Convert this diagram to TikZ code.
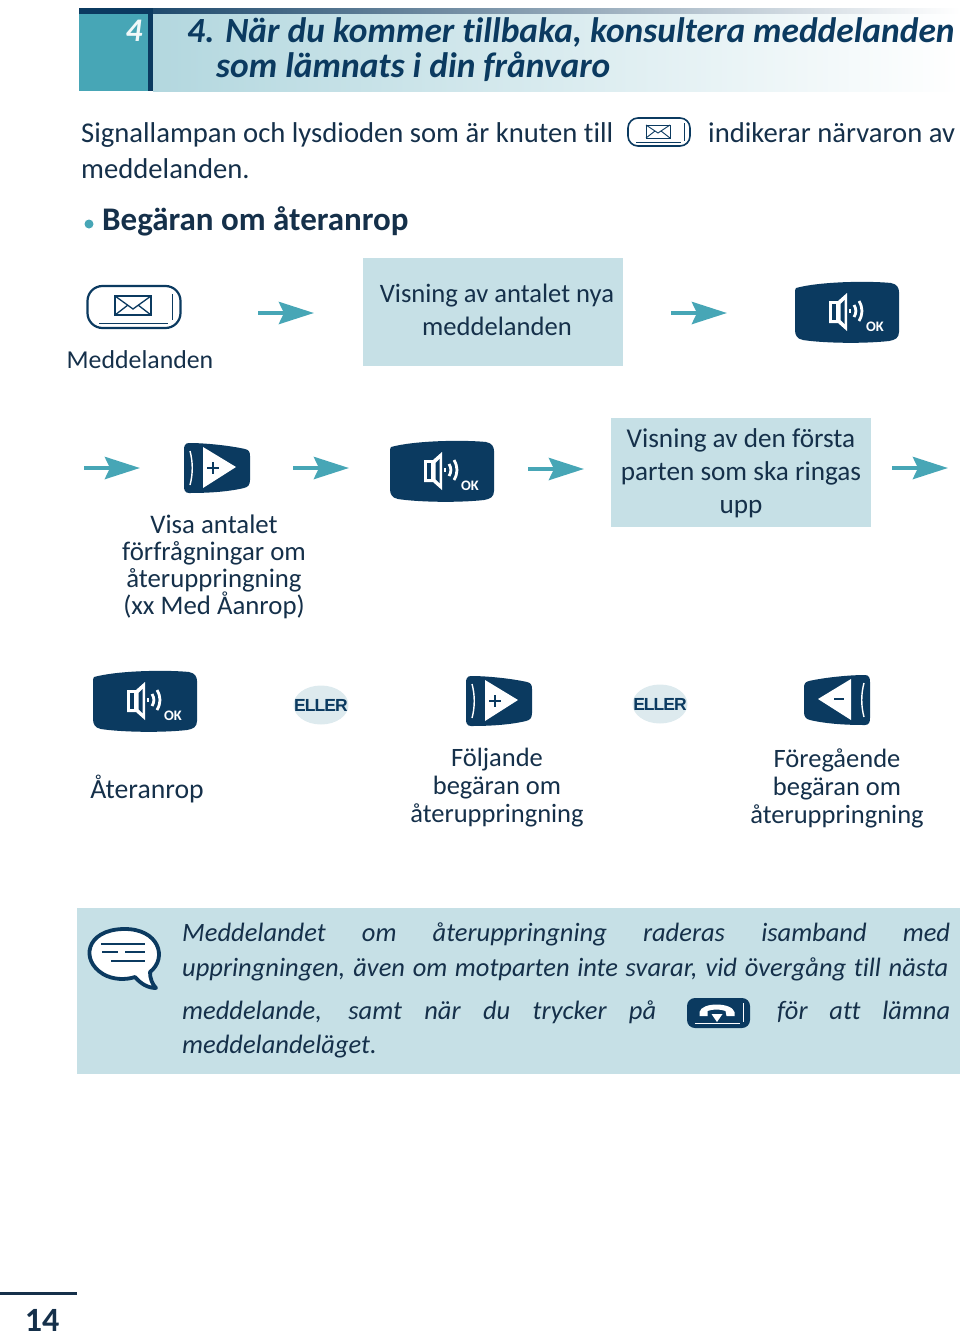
\documentclass[tikz,border=0pt]{standalone}
\usepackage{fontspec}
\setmainfont{Carlito}[Ligatures=NoCommon]
\newfontfamily\ellerfont{Liberation Sans}[LetterSpace=-5.5]
\usetikzlibrary{arrows.meta,shapes.geometric}
\definecolor{navy}{HTML}{0B3A60}
\definecolor{ink}{HTML}{15304A}
\definecolor{teal}{HTML}{47A6B6}
\definecolor{pale}{HTML}{C6E0E6}
\definecolor{oval}{HTML}{DDEAEE}
\newcommand{\fs}[2]{\fontsize{#1}{#2}\selectfont\lineskiplimit=-100pt\relax}
\tikzset{
  x=1pt,y=-1pt,
  body/.style={text=ink,inner sep=0pt,anchor=base west,font=\fs{28.65}{33}},
  note/.style={text=ink,inner sep=0pt,anchor=base west,font=\fs{26.5}{33}\itshape},
  label/.style={text=ink,inner sep=0pt,align=center,font=\fs{26.5}{28}},
  boxlabel/.style={text=ink,inner sep=0pt,align=center,font=\fs{26.6}{33}},
  flow/.style={draw=teal,line width=4.5pt,-{Stealth[length=35pt,width=22pt,inset=5pt,fill=teal]}},
  eller/.style={ellipse,fill=oval,minimum width=55pt,minimum height=39pt,inner sep=0pt,text=navy,font=\fs{17.5}{18}\ellerfont\bfseries},
  okkey/.pic={
    \fill[navy] (-51,-24) .. controls (-25,-31) and (25,-31) .. (44,-29)
      .. controls (50,-28) and (52,-24) .. (52,-20)
      -- (52,20) .. controls (52,26) and (48,28) .. (42,29)
      .. controls (15,32) and (-25,31) .. (-44,28)
      .. controls (-50,27) and (-52,23) .. (-52,18) -- (-52,-18)
      .. controls (-52,-21) and (-52,-23) .. (-51,-24) -- cycle;
    \fill[white] (-18,-11) -- (-9,-11) -- (0,-19) -- (0,19) -- (-9,11) -- (-18,11) -- cycle;
    \fill[navy] (-15.5,-8) rectangle (-11,8);
    \fill[navy] (-6.5,-8) -- (-2.5,-12) -- (-2.5,12) -- (-6.5,8) -- cycle;
    \draw[white,line width=2.8pt] (7,-7) .. controls (9.5,-3) and (9.5,1) .. (7,5);
    \draw[white,line width=2.8pt] (12,-11) .. controls (16,-4) and (16,2) .. (12,9);
    \draw[white,line width=2.8pt] (3,-3) -- (3,1);
    \node[text=white,inner sep=0pt,font=\fs{14.5}{14}\bfseries] at (28,15) {OK};
  },
  pluskey/.pic={
    \fill[navy] (-28,-25) .. controls (-10,-25) and (15,-22) .. (28,-19)
      .. controls (32,-18) and (33,-16) .. (33,-12) -- (33,12)
      .. controls (33,17) and (31,19) .. (27,20)
      .. controls (10,24) and (-10,25) .. (-28,25)
      .. controls (-32,25) and (-33,22) .. (-33,18) -- (-33,-18)
      .. controls (-33,-22) and (-32,-25) .. (-28,-25) -- cycle;
    \fill[white] (-14,-21) -- (19,-1) -- (-14,20) -- cycle;
    \draw[white,line width=1.4pt] (-27,-17) .. controls (-24,-6) and (-24,6) .. (-27,17);
    \draw[navy,line width=1.6pt] (-10,0) -- (2,0) (-4,-6) -- (-4,6);
  },
  minuskey/.pic={
    \fill[navy] (28,-25) .. controls (10,-25) and (-15,-22) .. (-28,-19)
      .. controls (-32,-18) and (-33,-16) .. (-33,-12) -- (-33,12)
      .. controls (-33,17) and (-31,19) .. (-27,20)
      .. controls (-10,24) and (10,25) .. (28,25)
      .. controls (32,25) and (33,22) .. (33,18) -- (33,-18)
      .. controls (33,-22) and (32,-25) .. (28,-25) -- cycle;
    \fill[white] (14,-21) -- (-19,-1) -- (14,20) -- cycle;
    \draw[white,line width=1.4pt] (27,-17) .. controls (24,-6) and (24,6) .. (27,17);
    \draw[navy,line width=1.6pt] (-3,-1) -- (7,-1);
  },
  mailkey/.pic={
    \draw[navy,line width=2.2pt,fill=white,rounded corners=15pt] (-46.5,-21) rectangle (46.5,21);
    \draw[navy,line width=.9pt] (38,-13) -- (38,13) (-35,16) -- (34,16);
    \draw[navy,line width=1.3pt,fill=white] (-19,-11) rectangle (17,8);
    \draw[navy,line width=1.3pt] (-19,-11) -- (-1,2) -- (17,-11) (-19,8) -- (-6,-2) (17,8) -- (4,-2);
  },
  smallmailkey/.pic={
    \draw[navy,line width=1.6pt,fill=white,rounded corners=10pt] (-31,-14) rectangle (31,14);
    \draw[navy,line width=.7pt] (25,-9) -- (25,9) (-23,10) -- (22,10);
    \draw[navy,line width=.9pt] (-13,-7) rectangle (11,6);
    \draw[navy,line width=.9pt] (-13,-7) -- (-1,1) -- (11,-7) (-13,6) -- (-4,-1) (11,6) -- (2,-1);
  },
  phonekey/.pic={
    \fill[navy,rounded corners=8pt] (-31.5,-15) rectangle (31.5,15);
    \fill[white] (-19,-1) .. controls (-17,-11) and (13,-11) .. (16,-1)
      -- (16,3) -- (8,3) -- (7,-2) .. controls (2,-4) and (-6,-4) .. (-11,-2)
      -- (-11,3) -- (-19,3) -- cycle;
    \fill[white] (-7,1) -- (4,1) -- (-1.5,9) -- cycle;
    \draw[white,line width=.9pt] (25,-10) -- (25,9) (-24,10) -- (21,10);
  },
  bubble/.pic={
    \draw[navy,line width=3.8pt,fill=white,line join=round]
      (12,21) .. controls (3,24) and (-10,24) .. (-20,18)
      .. controls (-43,4) and (-37,-26) .. (0,-27)
      .. controls (36,-28) and (45,2) .. (27,16)
      .. controls (27,22) and (29,28) .. (33,32)
      .. controls (25,32) and (18,28) .. (12,21) -- cycle;
    \draw[navy,line width=2.8pt] (-22,-12) -- (22,-12) (-21,-4) -- (-5,-4) (2,-4) -- (22,-4) (-12,5) -- (22,5);
  }
}
\begin{document}
\begin{tikzpicture}
\useasboundingbox (0,0) rectangle (960,1336);
% header
\fill[left color=navy,right color=white] (79,8) rectangle (960,14);
\fill[left color=pale!85!teal,right color=white] (153,14) rectangle (960,91);
\fill[teal] (79,14) rectangle (148,91);
\fill[navy] (148,14) rectangle (153,91);
\fill[navy] (79,8) rectangle (153,14);
\node[text=white!92!teal,inner sep=0pt,font=\fs{33}{33}\bfseries\itshape] (chapnum) at (134,31) {4};
\node[text=navy,inner sep=0pt,anchor=base west,font=\fs{35.4}{35}\bfseries\itshape] (title1) at (187,42) {4. När du kommer tillbaka, konsultera meddelanden};
\node[text=navy,inner sep=0pt,anchor=base west,font=\fs{35.4}{35}\bfseries\itshape] (title2) at (216,77) {som lämnats i din frånvaro};
% intro
\node[body] (intro1) at (81,142) {Signallampan och lysdioden som är knuten till};
\pic (introkey) at (659,132) {smallmailkey};
\node[body] (intro2) at (708,142) {indikerar närvaron av};
\node[body] (intro3) at (81,178) {meddelanden.};
\fill[teal] (89,224) circle (4.5);
\node[text=ink,inner sep=0pt,anchor=base west,font=\fs{33}{33}\bfseries] (heading) at (102,230) {Begäran om återanrop};
% row 1
\pic (mail) at (134,307) {mailkey};
\node[label,font=\fs{25.8}{28}] (mailtext) at (140,360) {Meddelanden};
\node[fill=pale,minimum width=260pt,minimum height=108pt,inner sep=0pt] (box1) at (493,312) {};
\node[boxlabel] (box1text) at (497,310) {Visning av antalet nya\\meddelanden};
\pic (ok1) at (847,312) {okkey};
\coordinate (a1s) at (258,313); \coordinate (a1e) at (314,313);
\coordinate (a2s) at (671,313); \coordinate (a2e) at (727,313);
\draw[flow] (a1s) -- (a1e);
\draw[flow] (a2s) -- (a2e);
% row 2
\coordinate (a3s) at (84,468); \coordinate (a3e) at (140,468);
\coordinate (a4s) at (293,468); \coordinate (a4e) at (349,468);
\coordinate (a5s) at (528,469); \coordinate (a5e) at (584,469);
\coordinate (a6s) at (892,468); \coordinate (a6e) at (948,468);
\draw[flow] (a3s) -- (a3e);
\draw[flow] (a4s) -- (a4e);
\draw[flow] (a5s) -- (a5e);
\draw[flow] (a6s) -- (a6e);
\pic (plus1) at (217,468) {pluskey};
\node[label,font=\fs{26.8}{27}] (plustext) at (214,567) {Visa antalet\\förfrågningar om\\återuppringning\\(xx Med Åanrop)};
\pic (ok2) at (442,471) {okkey};
\node[fill=pale,minimum width=260pt,minimum height=109pt,inner sep=0pt] (box2) at (741,472.5) {};
\node[boxlabel,font=\fs{27.2}{33}] (box2text) at (741,473) {Visning av den första\\parten som ska ringas\\upp};
% row 3
\pic (ok3) at (145,701) {okkey};
\node[eller] (or1) at (321,705) {\makebox[0pt]{ELLER}};
\pic (plus2) at (499,701) {pluskey};
\node[eller] (or2) at (660,704) {\makebox[0pt]{ELLER}};
\pic (minus) at (837,700) {minuskey};
\node[label,font=\fs{27.7}{28}] (ok3text) at (147,789) {Återanrop};
\node[label] (plus2text) at (497,787.5) {Följande\\begäran om\\återuppringning};
\node[label] (minustext) at (837,788.5) {Föregående\\begäran om\\återuppringning};
% note
\fill[pale] (77,908) rectangle (960,1074);
\pic (speech) at (123,956) {bubble};
\node[note] (n1) at (182,941) {\makebox[768pt][s]{Meddelandet om återuppringning raderas isamband med}};
\node[note] (n2) at (182,976) {\makebox[766pt][s]{uppringningen, även om motparten inte svarar, vid övergång till nästa}};
\node[note] (n3) at (182,1019) {\makebox[474pt][s]{meddelande, samt när du trycker på}};
\pic (hang) at (718.5,1013) {phonekey};
\node[note] (n4) at (777,1019) {\makebox[173pt][s]{för att lämna}};
\node[note] (n5) at (182,1053) {meddelandeläget.};
% page number
\fill[ink] (0,1292) rectangle (77,1295);
\node[text=ink,inner sep=0pt,font=\fs{34}{34}\bfseries] (pageno) at (42,1320) {14};
\end{tikzpicture}
\end{document}
